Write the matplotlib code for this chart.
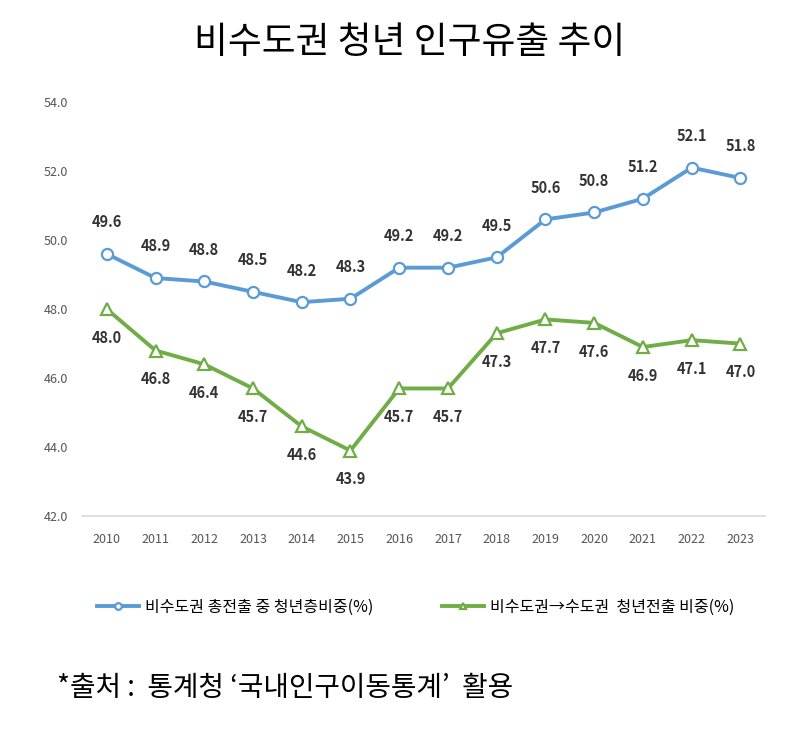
import matplotlib
matplotlib.use('Agg')
import matplotlib.pyplot as plt

plt.rcParams['font.family'] = ['Noto Sans CJK KR', 'DejaVu Sans']

years = [2010, 2011, 2012, 2013, 2014, 2015, 2016, 2017, 2018, 2019, 2020, 2021, 2022, 2023]
youth_share = [49.6, 48.9, 48.8, 48.5, 48.2, 48.3, 49.2, 49.2, 49.5, 50.6, 50.8, 51.2, 52.1, 51.8]
to_capital = [48.0, 46.8, 46.4, 45.7, 44.6, 43.9, 45.7, 45.7, 47.3, 47.7, 47.6, 46.9, 47.1, 47.0]
yticks = [42.0, 44.0, 46.0, 48.0, 50.0, 52.0, 54.0]

label_blue = '비수도권 총전출 중 청년층비중(%)'
label_green = '비수도권→수도권  청년전출 비중(%)'

BLUE = '#5B9BD5'
GREEN = '#70AD47'

fig = plt.figure(figsize=(8, 7.29), dpi=100)
ax = fig.add_axes([0.103, 0.292, 0.853, 0.568])

l1, = ax.plot(years, youth_share, color=BLUE, linewidth=2.8, marker='o', markersize=8,
              markerfacecolor='white', markeredgecolor=BLUE, markeredgewidth=1.6, label=label_blue)
l2, = ax.plot(years, to_capital, color=GREEN, linewidth=2.8, marker='^', markersize=8,
              markerfacecolor='white', markeredgecolor=GREEN, markeredgewidth=1.6, label=label_green)

for x, v in zip(years, youth_share):
    ax.annotate('%.1f' % v, (x, v), xytext=(0, 17), textcoords='offset points',
                ha='center', va='bottom', fontsize=10.5, fontweight='bold', color='#333333')
for x, v in zip(years, to_capital):
    ax.annotate('%.1f' % v, (x, v), xytext=(0, -15), textcoords='offset points',
                ha='center', va='top', fontsize=10.5, fontweight='bold', color='#333333')

ax.set_xlim(2009.5, 2023.5)
ax.set_ylim(42.0, 54.0)
ax.set_yticks(yticks)
ax.set_yticklabels(['%.1f' % t for t in yticks])
ax.set_xticks(years)
ax.set_xticklabels([str(y) for y in years])
ax.tick_params(length=0, labelsize=9, colors='#555555')
ax.tick_params(axis='y', pad=10)
ax.tick_params(axis='x', pad=12)
for s in ax.spines.values():
    s.set_visible(False)
ax.spines['bottom'].set_visible(True)
ax.spines['bottom'].set_color('#d9d9d9')
ax.spines['bottom'].set_linewidth(1.2)

fig.text(0.512, 0.942, '비수도권 청년 인구유출 추이', ha='center', va='center', fontsize=26.5)

fig.legend(handles=[l1, l2], loc='center', bbox_to_anchor=(0.52, 0.167), ncol=2,
           frameon=False, fontsize=11.5, columnspacing=4.3, handlelength=2.6, handletextpad=0.4,
           markerscale=0.6)

fig.text(0.071, 0.056, '*출처 :  통계청 ‘국내인구이동통계’  활용', ha='left', va='center', fontsize=20)

fig.savefig('out.png', dpi=100)
